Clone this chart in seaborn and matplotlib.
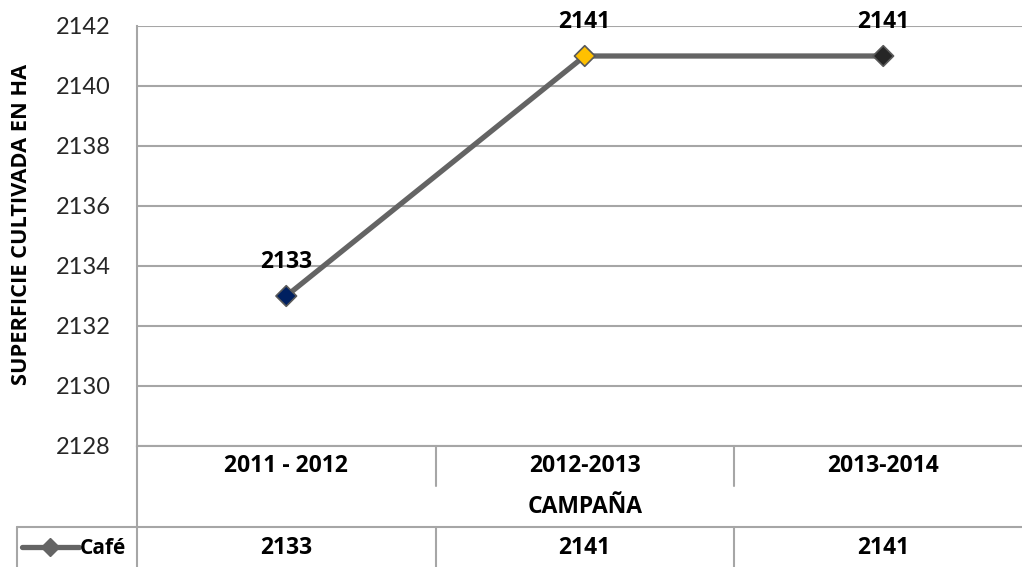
import matplotlib
matplotlib.use("Agg")
import matplotlib.pyplot as plt
import matplotlib.transforms as mtransforms
import seaborn as sns
import pandas as pd

campaigns = ["2011 - 2012", "2012-2013", "2013-2014"]
cafe = [2133, 2141, 2141]
marker_colors = ["#002060", "#FFC000", "#262626"]
y_ticks = [2128, 2130, 2132, 2134, 2136, 2138, 2140, 2142]
series_name = "Café"
x_title = "CAMPAÑA"
y_title = "SUPERFICIE CULTIVADA EN HA"

sns.set_theme(style="white")
plt.rcParams['font.family'] = ['Lato', 'DejaVu Sans']
BOLD = dict(family=['Open Sans', 'DejaVu Sans'], fontweight="bold", fontsize=16.5, color="black")

W, H = 1022, 567
fig = plt.figure(figsize=(W / 100, H / 100), dpi=100)
fx = lambda px: px / W
fy = lambda py: 1 - py / H

ax_left, ax_right, ax_top, ax_bot = 137, 1022, 26, 446
ax = fig.add_axes([fx(ax_left), fy(ax_bot), fx(ax_right - ax_left), (ax_bot - ax_top) / H])

df = pd.DataFrame({"pos": range(len(campaigns)), "campaign": campaigns, "value": cafe})

grid_c = "#A6A6A6"
line_c = "#646464"

for t in y_ticks:
    ax.axhline(t, color=grid_c, lw=1.5, zorder=0)

sns.lineplot(data=df, x="pos", y="value", ax=ax, color=line_c, lw=3.8, zorder=2)
sns.scatterplot(data=df, x="pos", y="value", hue="campaign", palette=marker_colors,
                marker="D", s=110, edgecolor="#595959", linewidth=1.2, legend=False, ax=ax, zorder=3)

for i, v in enumerate(cafe):
    ax.annotate(str(v), (i, v), xytext=(0, 22), textcoords="offset pixels",
                ha="center", va="bottom", **BOLD)

step = 298.5
ax.set_xlim(-0.5, -0.5 + (ax_right - ax_left) / step)
ax.set_ylim(2128, 2142)
ax.set_yticks(y_ticks)
ax.set_yticklabels([str(t) for t in y_ticks], fontsize=17)
ax.set_xticks([])
ax.set_xlabel("")
ax.set_ylabel("")
ax.tick_params(axis="y", direction="out", length=6, width=1.5, color=grid_c, pad=13)
for s in ["top", "right"]:
    ax.spines[s].set_visible(False)
ax.spines["left"].set_color(grid_c)
ax.spines["left"].set_linewidth(1.5)
ax.spines["bottom"].set_color(grid_c)
ax.spines["bottom"].set_linewidth(1.5)

fig.text(fx(22), fy(224), y_title, rotation=90, ha="center", va="center",
         **{**BOLD, "fontsize": 15.7})

blend = mtransforms.blended_transform_factory(ax.transData, fig.transFigure)
kw = dict(color=grid_c, lw=1.5, clip_on=False, transform=fig.transFigure)
fig.add_artist(plt.Line2D([fx(ax_left), fx(ax_left)], [fy(ax_bot), fy(H)], **kw))
fig.add_artist(plt.Line2D([fx(17), fx(W)], [fy(527), fy(527)], **kw))
fig.add_artist(plt.Line2D([fx(17), fx(17)], [fy(527), fy(H)], **kw))
for b in [0.5, 1.5]:
    fig.add_artist(plt.Line2D([b, b], [fy(ax_bot), fy(486)], color=grid_c, lw=1.5,
                              transform=blend, clip_on=False))
    fig.add_artist(plt.Line2D([b, b], [fy(527), fy(H)], color=grid_c, lw=1.5,
                              transform=blend, clip_on=False))

for i, (c, v) in enumerate(zip(campaigns, cafe)):
    fig.text(i, fy(466), c, transform=blend, ha="center", va="center", **BOLD)
    fig.text(i, fy(548), str(v), transform=blend, ha="center", va="center", **BOLD)
fig.text(1, fy(507), x_title, transform=blend, ha="center", va="center", **BOLD)

fig.add_artist(plt.Line2D([fx(22), fx(79)], [fy(547), fy(547)], color=line_c, lw=3.8))
fig.add_artist(plt.Line2D([fx(50)], [fy(547)], color=line_c, marker="D", markersize=9,
                          markeredgecolor=line_c, lw=0))
fig.text(fx(80), fy(548), series_name, ha="left", va="center", **{**BOLD, "fontsize": 15})

fig.savefig("out.png", dpi=100)
